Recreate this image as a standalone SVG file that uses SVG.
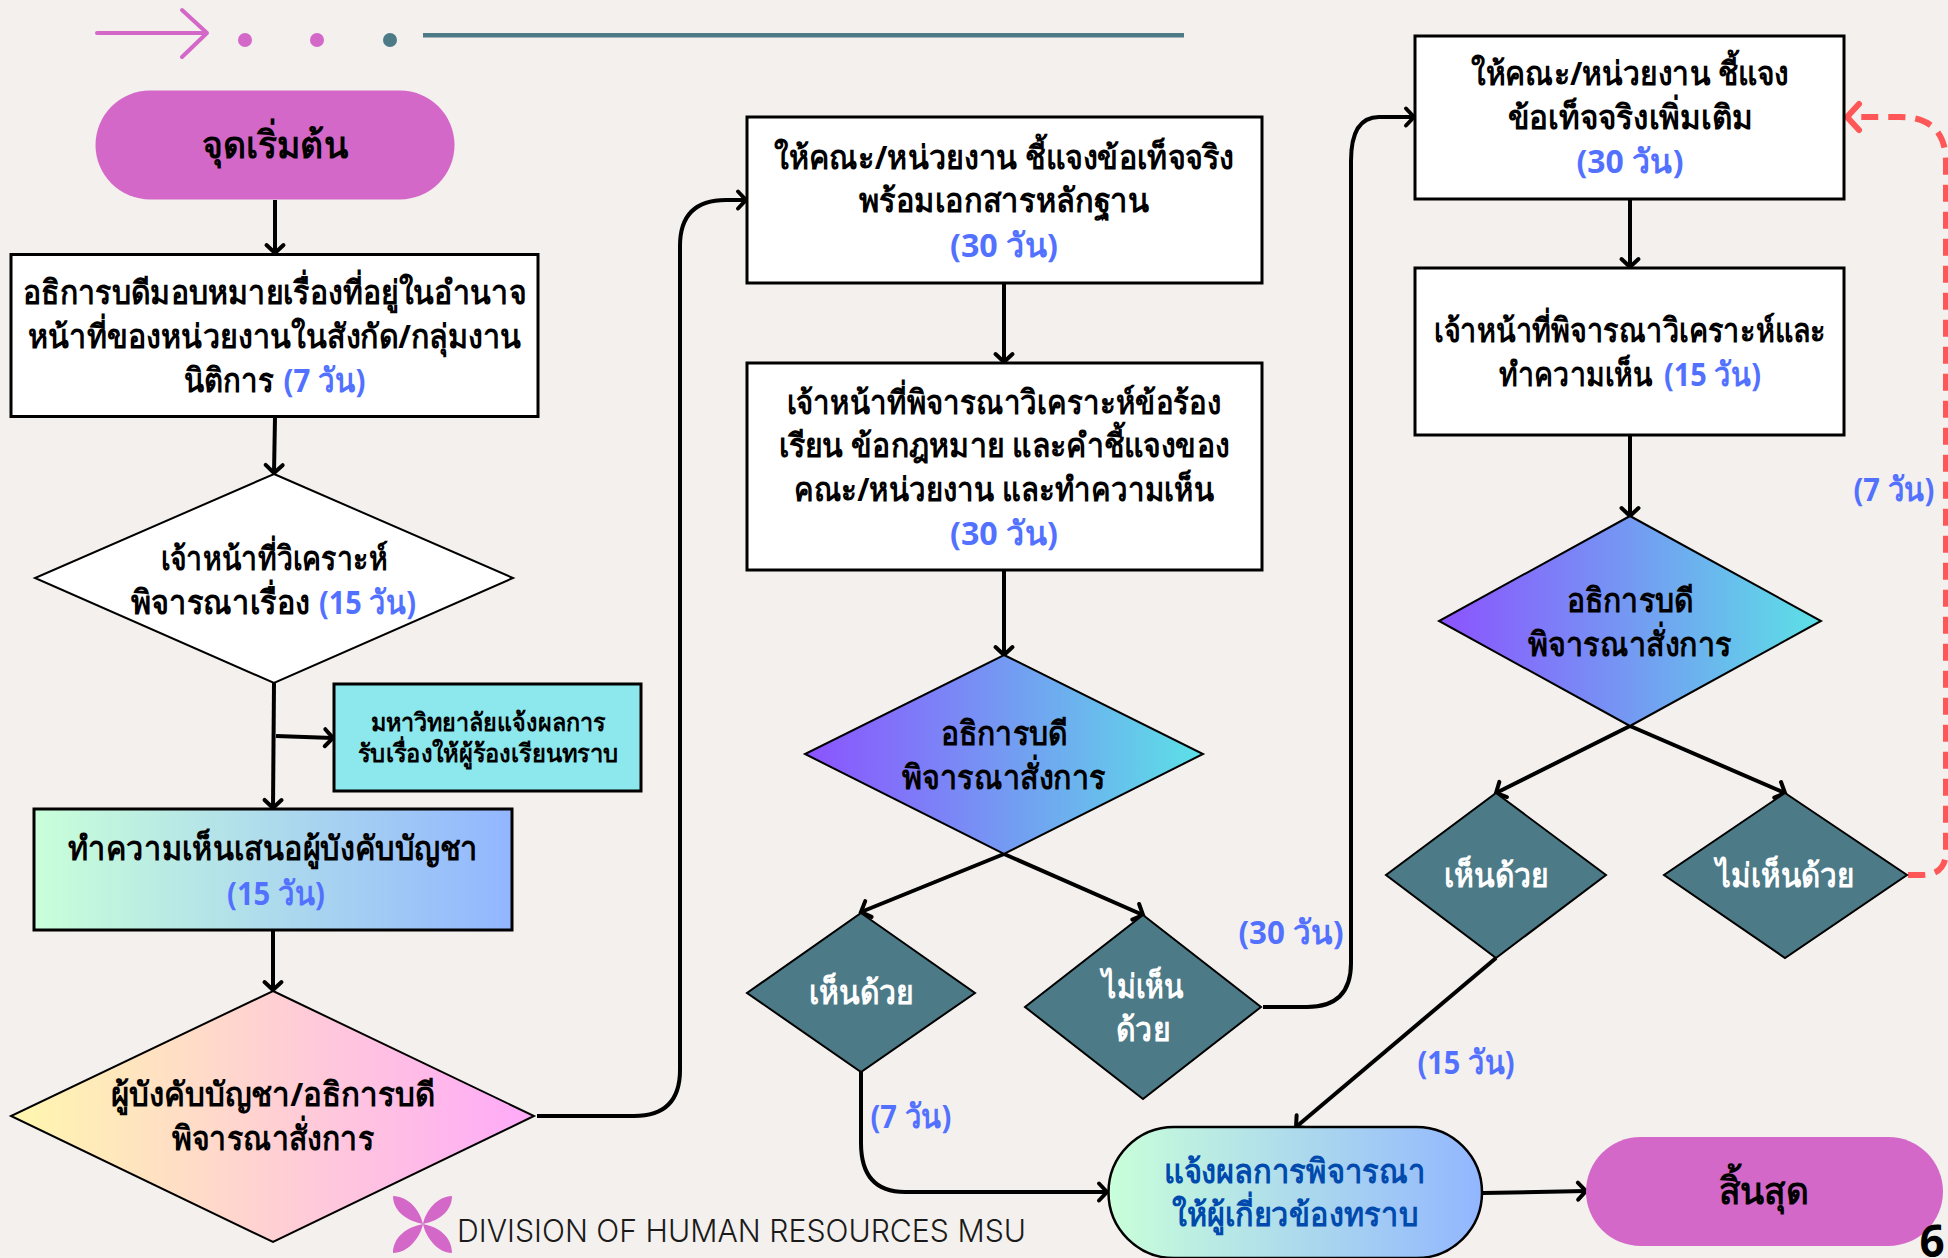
<svg xmlns="http://www.w3.org/2000/svg" width="1948" height="1258" viewBox="0 0 1948 1258">
<style>
text{font-family:"Noto Sans","Liberation Sans","DejaVu Sans",sans-serif;font-weight:700;fill:#000;text-anchor:middle;font-size:33px}
.s{text-anchor:start}
.b{fill:#5271ff}
.w{fill:#fff}
.box{fill:#fff;stroke:#000;stroke-width:3}
.dia{stroke:#000;stroke-width:2}
.teal{fill:#4c7a87;stroke:#000;stroke-width:2}
.pill{fill:#d468c8}
.c{fill:none;stroke:#000;stroke-width:4;marker-end:url(#a)}
</style>
<defs>
<marker id="a" markerUnits="userSpaceOnUse" markerWidth="20" markerHeight="24" refX="15" refY="12" orient="auto" overflow="visible"><path d="M7,3.500L15,12L7,20.500" fill="none" stroke="#000" stroke-width="4" stroke-linecap="round"/></marker>
<marker id="r" markerUnits="userSpaceOnUse" markerWidth="28" markerHeight="32" refX="22" refY="16" orient="auto" overflow="visible"><path d="M9,3L21,16L9,29" fill="none" stroke="#ff5757" stroke-width="6" stroke-linecap="round"/></marker>
<linearGradient id="g1"><stop offset="0" stop-color="#c9ffd9"/><stop offset="1" stop-color="#92b6ff"/></linearGradient>
<linearGradient id="g2"><stop offset="0" stop-color="#fff7ad"/><stop offset="1" stop-color="#ffa9f9"/></linearGradient>
<linearGradient id="g3"><stop offset="0" stop-color="#8c52ff"/><stop offset="1" stop-color="#5ce1e6"/></linearGradient>
</defs>
<rect width="1948" height="1258" fill="#f4f0ed"/>
<g id="decor">
<path d="M97,33H207M182,10L207,33L182,57" fill="none" stroke="#d468c8" stroke-width="4" stroke-linecap="round" stroke-linejoin="round"/>
<circle cx="245" cy="40" r="7" fill="#d468c8"/><circle cx="317" cy="40" r="7" fill="#d468c8"/><circle cx="390" cy="40" r="7" fill="#4c7a87"/>
<rect x="423" y="33" width="761" height="4.500" fill="#4c7a87"/>
</g>
<g id="connectors">
<path class="c" d="M275,200V253"/>
<path class="c" d="M275,417L274,473"/>
<path class="c" d="M274,683L273,808"/>
<path class="c" d="M276,736L333,738"/>
<path class="c" d="M273,930V990"/>
<path class="c" d="M537,1116H634Q680,1116 680,1070V246Q680,200 726,200H746"/>
<path class="c" d="M1004,283V362"/>
<path class="c" d="M1004,570V655"/>
<path class="c" d="M1004,854L861,912"/>
<path class="c" d="M1004,854L1143,915"/>
<path class="c" d="M861,1072V1143Q861,1192 905,1192H1107"/>
<path class="c" d="M1263,1007H1307Q1351,1007 1351,963V161Q1351,117 1379,117H1414"/>
<path class="c" d="M1630,199V267"/>
<path class="c" d="M1630,435V516"/>
<path class="c" d="M1630,726L1496,793"/>
<path class="c" d="M1630,726L1785,793"/>
<path class="c" d="M1496,958L1296,1127"/>
<path class="c" d="M1483,1193L1586,1191"/>
<path d="M1908,875H1922Q1946,875 1946,851V163Q1946,117 1900,117H1846" fill="none" stroke="#ff5757" stroke-width="6" stroke-dasharray="17 10" marker-end="url(#r)"/>
</g>
<g id="start"><rect class="pill" x="95.500" y="90.500" width="359" height="109" rx="54.500"/><text x="275" y="158" textLength="146" lengthAdjust="spacingAndGlyphs" style="font-size:38px">จุดเริ่มต้น</text></g>
<g id="n1"><rect class="box" x="11" y="254.500" width="527" height="162"/><text x="274.500" y="304" textLength="503" lengthAdjust="spacingAndGlyphs">อธิการบดีมอบหมายเรื่องที่อยู่ในอำนาจ</text><text x="274.500" y="348" textLength="494" lengthAdjust="spacingAndGlyphs">หน้าที่ของหน่วยงานในสังกัด/กลุ่มงาน</text><text class="s" x="184" y="392" textLength="90" lengthAdjust="spacingAndGlyphs">นิติการ</text><text class="b s" x="283.500" y="392" textLength="82" lengthAdjust="spacingAndGlyphs">(7 วัน)</text></g>
<g id="n2"><polygon class="dia" fill="#fff" points="274,474 513,578 274,683 35,578"/><text x="274" y="570" textLength="227" lengthAdjust="spacingAndGlyphs">เจ้าหน้าที่วิเคราะห์</text><text class="s" x="131" y="614" textLength="179" lengthAdjust="spacingAndGlyphs">พิจารณาเรื่อง</text><text class="b s" x="319" y="614" textLength="97" lengthAdjust="spacingAndGlyphs">(15 วัน)</text></g>
<g id="n3"><rect x="334" y="684" width="307" height="107" fill="#8ce8ec" stroke="#000" stroke-width="3"/><text x="488" y="730.500" textLength="234" lengthAdjust="spacingAndGlyphs" style="font-size:25px">มหาวิทยาลัยแจ้งผลการ</text><text x="488" y="762" textLength="260" lengthAdjust="spacingAndGlyphs" style="font-size:25px">รับเรื่องให้ผู้ร้องเรียนทราบ</text></g>
<g id="n4"><rect x="34" y="809" width="478" height="121" fill="url(#g1)" stroke="#000" stroke-width="3"/><text x="273" y="860" textLength="410" lengthAdjust="spacingAndGlyphs">ทำความเห็นเสนอผู้บังคับบัญชา</text><text class="b" x="276" y="905" textLength="98" lengthAdjust="spacingAndGlyphs">(15 วัน)</text></g>
<g id="n5"><polygon class="dia" fill="url(#g2)" points="273,991 534,1116 273,1242 11,1116"/><text x="273" y="1106" textLength="324" lengthAdjust="spacingAndGlyphs">ผู้บังคับบัญชา/อธิการบดี</text><text x="273" y="1150" textLength="202" lengthAdjust="spacingAndGlyphs">พิจารณาสั่งการ</text></g>
<g id="n6"><rect class="box" x="747" y="117" width="515" height="166"/><text x="1004" y="169" textLength="460" lengthAdjust="spacingAndGlyphs">ให้คณะ/หน่วยงาน ชี้แจงข้อเท็จจริง</text><text x="1004" y="212" textLength="291" lengthAdjust="spacingAndGlyphs">พร้อมเอกสารหลักฐาน</text><text class="b" x="1004" y="257" textLength="108" lengthAdjust="spacingAndGlyphs">(30 วัน)</text></g>
<g id="n7"><rect class="box" x="747" y="363" width="515" height="207"/><text x="1004" y="413.500" textLength="435" lengthAdjust="spacingAndGlyphs">เจ้าหน้าที่พิจารณาวิเคราะห์ข้อร้อง</text><text x="1004" y="457" textLength="451" lengthAdjust="spacingAndGlyphs">เรียน ข้อกฎหมาย และคำชี้แจงของ</text><text x="1004" y="501" textLength="420" lengthAdjust="spacingAndGlyphs">คณะ/หน่วยงาน และทำความเห็น</text><text class="b" x="1004" y="545" textLength="108" lengthAdjust="spacingAndGlyphs">(30 วัน)</text></g>
<g id="n8"><polygon class="dia" fill="url(#g3)" points="1004,655 1203,754 1004,854 805,754"/><text x="1004" y="745" textLength="127" lengthAdjust="spacingAndGlyphs">อธิการบดี</text><text x="1004" y="789" textLength="204" lengthAdjust="spacingAndGlyphs">พิจารณาสั่งการ</text></g>
<g id="n9"><polygon class="teal" points="861,913 975,993 861,1072 747,993"/><text class="w" x="861" y="1004" textLength="105" lengthAdjust="spacingAndGlyphs">เห็นด้วย</text></g>
<g id="n10"><polygon class="teal" points="1143,915 1261,1007 1143,1099 1025,1007"/><text class="w" x="1143" y="998" textLength="82" lengthAdjust="spacingAndGlyphs">ไม่เห็น</text><text class="w" x="1143" y="1041" textLength="54" lengthAdjust="spacingAndGlyphs">ด้วย</text></g>
<g id="n11"><rect class="box" x="1415" y="36" width="429" height="163"/><text x="1630" y="85" textLength="318" lengthAdjust="spacingAndGlyphs">ให้คณะ/หน่วยงาน ชี้แจง</text><text x="1630" y="129" textLength="245" lengthAdjust="spacingAndGlyphs">ข้อเท็จจริงเพิ่มเติม</text><text class="b" x="1630" y="173" textLength="107" lengthAdjust="spacingAndGlyphs">(30 วัน)</text></g>
<g id="n12"><rect class="box" x="1415" y="268" width="429" height="167"/><text x="1630" y="342" textLength="392" lengthAdjust="spacingAndGlyphs">เจ้าหน้าที่พิจารณาวิเคราะห์และ</text><text class="s" x="1499" y="386" textLength="154" lengthAdjust="spacingAndGlyphs">ทำความเห็น</text><text class="b s" x="1664" y="386" textLength="97" lengthAdjust="spacingAndGlyphs">(15 วัน)</text></g>
<g id="n13"><polygon class="dia" fill="url(#g3)" points="1630,516 1821,621 1630,726 1439,621"/><text x="1630" y="612" textLength="127" lengthAdjust="spacingAndGlyphs">อธิการบดี</text><text x="1630" y="656" textLength="204" lengthAdjust="spacingAndGlyphs">พิจารณาสั่งการ</text></g>
<g id="n14"><polygon class="teal" points="1496,793 1606,875 1496,958 1386,875"/><text class="w" x="1496" y="887" textLength="105" lengthAdjust="spacingAndGlyphs">เห็นด้วย</text></g>
<g id="n15"><polygon class="teal" points="1785,793 1907,875 1785,958 1664,875"/><text class="w" x="1785" y="887" textLength="138" lengthAdjust="spacingAndGlyphs">ไม่เห็นด้วย</text></g>
<g id="n16"><rect x="1108.500" y="1127" width="373.500" height="131" rx="65.500" fill="url(#g1)" stroke="#000" stroke-width="2.500"/><text x="1295" y="1183" textLength="262" lengthAdjust="spacingAndGlyphs" style="fill:#004aad">แจ้งผลการพิจารณา</text><text x="1295" y="1226" textLength="246" lengthAdjust="spacingAndGlyphs" style="fill:#004aad">ให้ผู้เกี่ยวข้องทราบ</text></g>
<g id="end"><rect class="pill" x="1586" y="1137" width="357" height="109" rx="54.500"/><text x="1764" y="1204" textLength="90" lengthAdjust="spacingAndGlyphs" style="font-size:38px">สิ้นสุด</text></g>
<g id="labels"><text class="b" x="911" y="1128" textLength="81" lengthAdjust="spacingAndGlyphs">(7 วัน)</text><text class="b" x="1291" y="944" textLength="105" lengthAdjust="spacingAndGlyphs">(30 วัน)</text><text class="b" x="1466" y="1074" textLength="97" lengthAdjust="spacingAndGlyphs">(15 วัน)</text><text class="b" x="1894" y="501" textLength="81" lengthAdjust="spacingAndGlyphs">(7 วัน)</text><text x="1932" y="1257" style="font-size:44px">6</text></g>
<g id="logo"><path fill="#d468c8" d="M423,1224C420,1210 408,1196 393,1196C393,1211 407,1221 423,1224ZM423,1224C426,1210 438,1196 452,1196C452,1211 439,1221 423,1224ZM423,1224C420,1238 408,1253 393,1253C393,1237 407,1227 423,1224ZM423,1224C426,1238 438,1253 452,1253C452,1237 439,1227 423,1224Z"/><text x="457" y="1242" textLength="569" lengthAdjust="spacingAndGlyphs" style="font-family:Inter,'Liberation Sans',sans-serif;font-weight:300;font-size:31px;text-anchor:start;fill:#1a1a1a">DIVISION OF HUMAN RESOURCES MSU</text></g>
</svg>
